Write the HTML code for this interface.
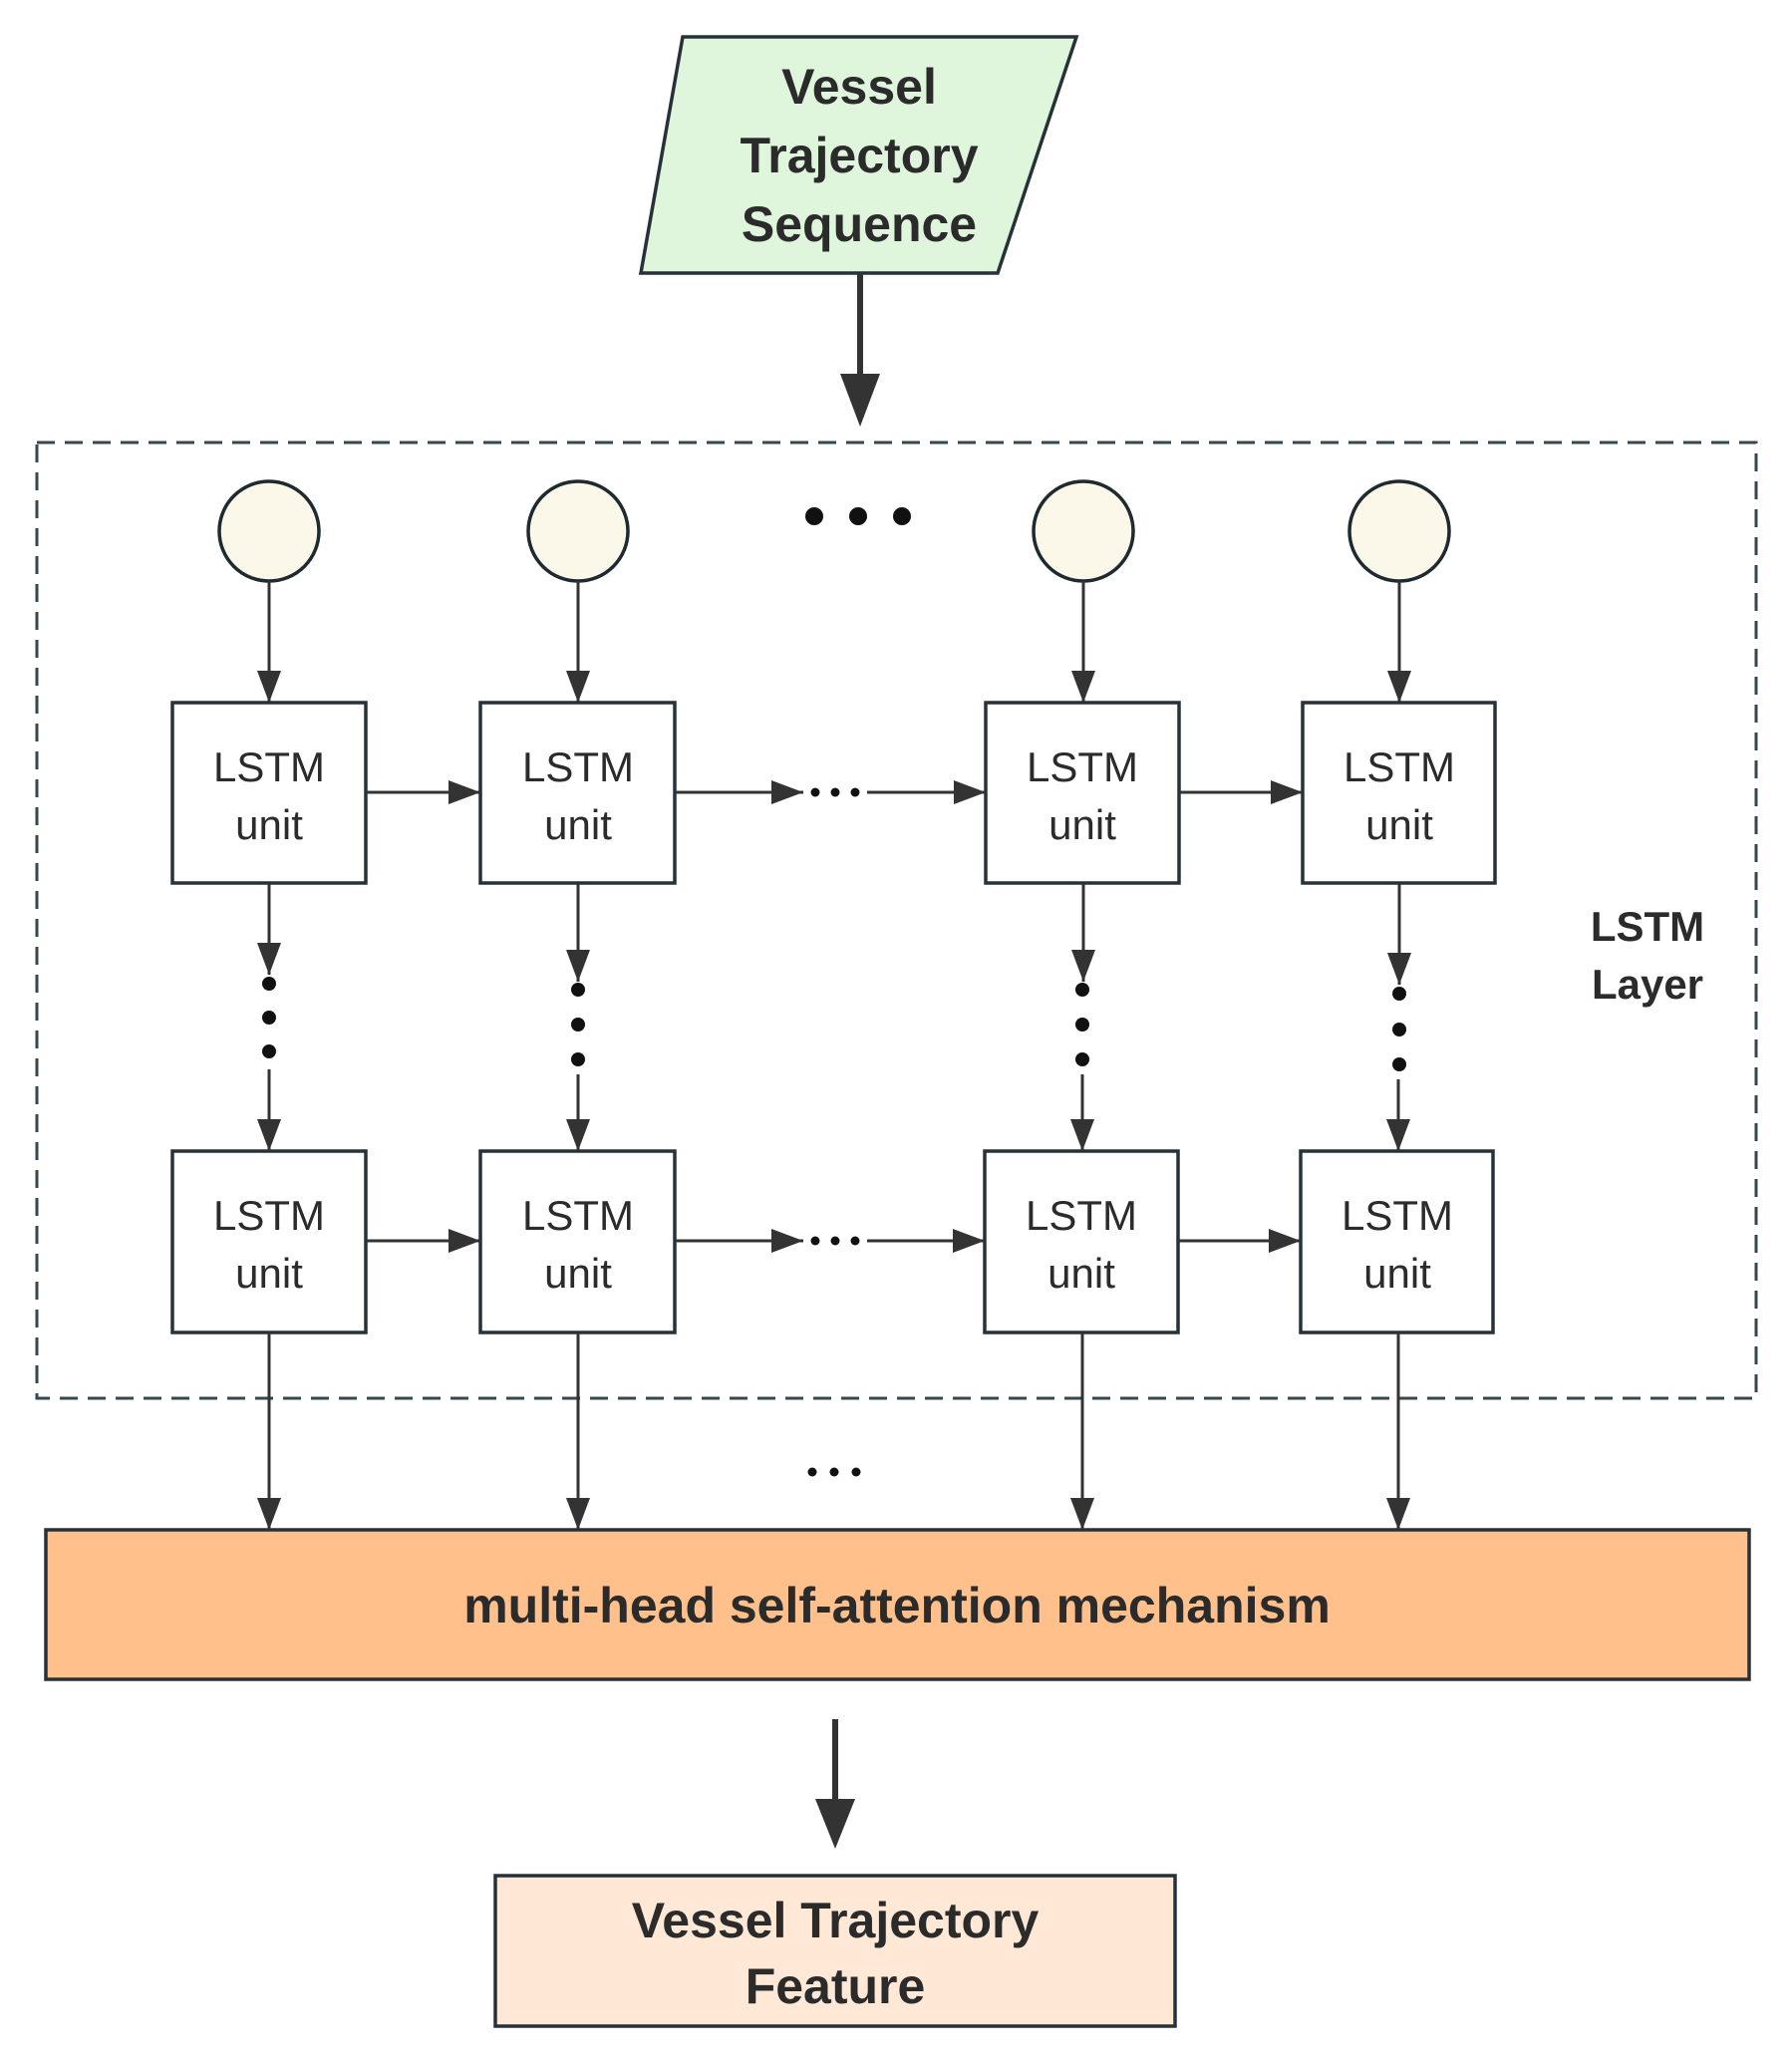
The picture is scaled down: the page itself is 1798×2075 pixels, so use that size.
<!DOCTYPE html>
<html><head><meta charset="utf-8"><style>
html,body{margin:0;padding:0;background:#fff;}
svg{display:block;}
text{font-family:"Liberation Sans",sans-serif;fill:#2b2b2b;}
.b{font-weight:bold;}
</style></head><body>
<svg width="1798" height="2075" viewBox="0 0 1798 2075" xmlns="http://www.w3.org/2000/svg">
<defs>
<marker id="a" markerWidth="32" markerHeight="24" refX="10" refY="5" orient="auto" markerUnits="userSpaceOnUse" viewBox="0 0 10 10" preserveAspectRatio="none">
<path d="M0,0 L10,5 L0,10 z" fill="#333"/></marker>
</defs>
<style>
.ln{stroke:#333;stroke-width:3;fill:none;}
.bx{fill:#fff;stroke:#263238;stroke-width:3.5;}
</style>
<polygon points="685,37 1080,37 1001,274 643,274" fill="#dff5dc" stroke="#263238" stroke-width="3.5"/>
<text x="862" y="104" class="b" font-size="50" text-anchor="middle">Vessel</text>
<text x="862" y="173" class="b" font-size="50" text-anchor="middle">Trajectory</text>
<text x="862" y="242" class="b" font-size="50" text-anchor="middle">Sequence</text>
<line x1="863" y1="274" x2="863" y2="385" stroke="#333" stroke-width="6"/>
<polygon points="843,375 883,375 863,428" fill="#333"/>
<rect x="37" y="444" width="1725" height="959" fill="none" stroke="#37474f" stroke-width="3" stroke-dasharray="18,10"/>
<g fill="#fbf8ea" stroke="#1f2a30" stroke-width="3.5">
<circle cx="270" cy="533" r="50"/><circle cx="580" cy="533" r="50"/>
<circle cx="1087" cy="533" r="50"/><circle cx="1404" cy="533" r="50"/>
</g>
<g fill="#111"><circle cx="817" cy="518" r="9"/><circle cx="861" cy="518" r="9"/><circle cx="905" cy="518" r="9"/></g>
<g class="ln">
<line x1="270" y1="583" x2="270" y2="705" marker-end="url(#a)"/>
<line x1="580" y1="583" x2="580" y2="705" marker-end="url(#a)"/>
<line x1="1087" y1="583" x2="1087" y2="705" marker-end="url(#a)"/>
<line x1="1404" y1="583" x2="1404" y2="705" marker-end="url(#a)"/>
</g>
<g>
<rect class="bx" x="173" y="705" width="194" height="181"/>
<rect class="bx" x="482" y="705" width="195" height="181"/>
<rect class="bx" x="989" y="705" width="194" height="181"/>
<rect class="bx" x="1307" y="705" width="193" height="181"/>
<rect class="bx" x="173" y="1155" width="194" height="182"/>
<rect class="bx" x="482" y="1155" width="195" height="182"/>
<rect class="bx" x="988" y="1155" width="194" height="182"/>
<rect class="bx" x="1305" y="1155" width="193" height="182"/>
</g>
<g font-size="42" text-anchor="middle">
<text x="270" y="784">LSTM</text><text x="270" y="842">unit</text>
<text x="580" y="784">LSTM</text><text x="580" y="842">unit</text>
<text x="1086" y="784">LSTM</text><text x="1086" y="842">unit</text>
<text x="1404" y="784">LSTM</text><text x="1404" y="842">unit</text>
<text x="270" y="1234">LSTM</text><text x="270" y="1292">unit</text>
<text x="580" y="1234">LSTM</text><text x="580" y="1292">unit</text>
<text x="1085" y="1234">LSTM</text><text x="1085" y="1292">unit</text>
<text x="1402" y="1234">LSTM</text><text x="1402" y="1292">unit</text>
</g>
<g class="ln">
<line x1="367" y1="795" x2="482" y2="795" marker-end="url(#a)"/>
<line x1="677" y1="795" x2="806" y2="795" marker-end="url(#a)"/>
<line x1="870" y1="795" x2="989" y2="795" marker-end="url(#a)"/>
<line x1="1183" y1="795" x2="1307" y2="795" marker-end="url(#a)"/>
<line x1="367" y1="1245" x2="482" y2="1245" marker-end="url(#a)"/>
<line x1="677" y1="1245" x2="806" y2="1245" marker-end="url(#a)"/>
<line x1="870" y1="1245" x2="988" y2="1245" marker-end="url(#a)"/>
<line x1="1182" y1="1245" x2="1305" y2="1245" marker-end="url(#a)"/>
</g>
<g fill="#111">
<circle cx="818" cy="795" r="4.5"/><circle cx="838" cy="795" r="4.5"/><circle cx="858" cy="795" r="4.5"/>
<circle cx="818" cy="1245" r="4.5"/><circle cx="838" cy="1245" r="4.5"/><circle cx="858" cy="1245" r="4.5"/>
</g>
<g class="ln">
<line x1="270" y1="886" x2="270" y2="978" marker-end="url(#a)"/>
<line x1="580" y1="886" x2="580" y2="985" marker-end="url(#a)"/>
<line x1="1087" y1="886" x2="1087" y2="985" marker-end="url(#a)"/>
<line x1="1404" y1="886" x2="1404" y2="988" marker-end="url(#a)"/>
<line x1="270" y1="1073" x2="270" y2="1155" marker-end="url(#a)"/>
<line x1="580" y1="1078" x2="580" y2="1155" marker-end="url(#a)"/>
<line x1="1086" y1="1078" x2="1086" y2="1155" marker-end="url(#a)"/>
<line x1="1403" y1="1083" x2="1403" y2="1155" marker-end="url(#a)"/>
</g>
<g fill="#111">
<circle cx="270" cy="987" r="7"/><circle cx="270" cy="1021" r="7"/><circle cx="270" cy="1055" r="7"/>
<circle cx="580" cy="993" r="7"/><circle cx="580" cy="1028" r="7"/><circle cx="580" cy="1063" r="7"/>
<circle cx="1086" cy="993" r="7"/><circle cx="1086" cy="1028" r="7"/><circle cx="1086" cy="1063" r="7"/>
<circle cx="1404" cy="997" r="7"/><circle cx="1404" cy="1033" r="7"/><circle cx="1404" cy="1068" r="7"/>
</g>
<text x="1653" y="944" class="b" font-size="42" text-anchor="middle">LSTM</text>
<text x="1653" y="1002" class="b" font-size="42" text-anchor="middle">Layer</text>
<g class="ln">
<line x1="270" y1="1337" x2="270" y2="1535" marker-end="url(#a)"/>
<line x1="580" y1="1337" x2="580" y2="1535" marker-end="url(#a)"/>
<line x1="1086" y1="1337" x2="1086" y2="1535" marker-end="url(#a)"/>
<line x1="1403" y1="1337" x2="1403" y2="1535" marker-end="url(#a)"/>
</g>
<g fill="#111"><circle cx="815" cy="1477" r="4.5"/><circle cx="837" cy="1477" r="4.5"/><circle cx="859" cy="1477" r="4.5"/></g>
<rect x="46" y="1535" width="1709" height="150" fill="#ffc08c" stroke="#263238" stroke-width="3.5"/>
<text x="900" y="1628" class="b" font-size="50" text-anchor="middle">multi-head self-attention mechanism</text>
<line x1="838" y1="1725" x2="838" y2="1815" stroke="#333" stroke-width="6"/>
<polygon points="818,1805 858,1805 838,1855" fill="#333"/>
<rect x="497" y="1882" width="682" height="151" fill="#ffe8d6" stroke="#263238" stroke-width="3.5"/>
<text x="838" y="1944" class="b" font-size="50" text-anchor="middle">Vessel Trajectory</text>
<text x="838" y="2010" class="b" font-size="50" text-anchor="middle">Feature</text>
</svg>
</body></html>
